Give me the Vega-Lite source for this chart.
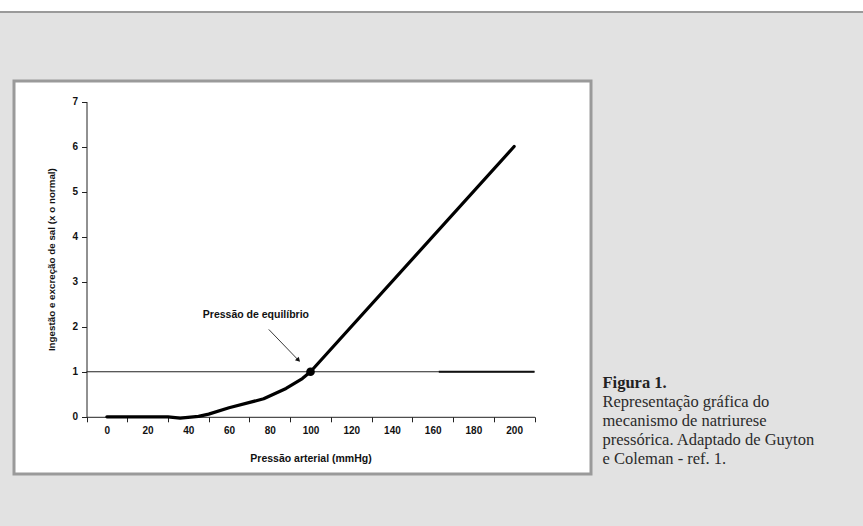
{
  "$schema": "https://vega.github.io/schema/vega-lite/v6.json",
  "background": "#e2e2e2",
  "padding": 0,
  "spacing": 0,
  "config": {"view": {"stroke": null}, "font": "Liberation Sans"},
  "datasets": {
    "curve": [
      {"p": 0, "v": 0}, {"p": 30, "v": 0}, {"p": 36, "v": -0.03}, {"p": 45, "v": 0.01},
      {"p": 50, "v": 0.06}, {"p": 60, "v": 0.2}, {"p": 77, "v": 0.4}, {"p": 88, "v": 0.63},
      {"p": 96, "v": 0.85}, {"p": 100, "v": 1}, {"p": 200, "v": 6}
    ],
    "intake": [{"p": -10, "p2": 210, "v": 1}],
    "intakeThick": [{"p": 163, "p2": 210, "v": 1}],
    "equilibrium": [{"p": 100, "v": 1}],
    "arrow": [{"p": 79.5, "v": 1.94, "p2": 94.2, "v2": 1.25}],
    "arrowHead": [{"p": 93.8, "v": 1.27}],
    "label": [{"p": 73.2, "v": 2.27, "text": "Pressão de equilíbrio"}]
  },
  "vconcat": [
    {"width": 863, "height": 11, "data": {"values": []}, "mark": "point", "view": {"fill": "white"}},
    {"width": 863, "height": 2, "data": {"values": []}, "mark": "point", "view": {"fill": "#9a9a9a"}},
    {"width": 863, "height": 65.5, "data": {"values": []}, "mark": "point"},
    {
      "spacing": 0,
      "hconcat": [
        {"width": 11.5, "height": 10, "data": {"values": []}, "mark": "point"},
        {
          "width": 577,
          "height": 393,
          "view": {"fill": "white", "stroke": "#9a9a9a", "strokeWidth": 3},
          "title": {
            "text": "Figura 1.",
            "subtitle": ["Representação gráfica do", "mecanismo de natriurese", "pressórica. Adaptado de Guyton", "e Coleman - ref. 1."],
            "orient": "bottom",
            "anchor": "start",
            "align": "left",
            "frame": "group",
            "dx": 588.5,
            "dy": -103,
            "font": "Liberation Serif",
            "fontSize": 16.5,
            "fontWeight": "bold",
            "color": "#222222",
            "subtitleFont": "Liberation Serif",
            "subtitleFontSize": 16.5,
            "subtitleFontWeight": "normal",
            "subtitleColor": "#2b2b2b",
            "subtitleLineHeight": 19,
            "subtitlePadding": 2
          },
          "layer": [
            {
              "data": {"name": "curve"},
              "mark": {"type": "line", "color": "black", "strokeWidth": 3.2, "strokeJoin": "round", "strokeCap": "round"},
              "encoding": {
                "x": {
                  "field": "p", "type": "quantitative",
                  "scale": {"domain": [-10, 210], "range": [72.5, 520.5], "nice": false, "zero": false},
                  "axis": {
                    "title": "Pressão arterial (mmHg)",
                    "offset": -57.2,
                    "values": [-10, 10, 30, 50, 70, 90, 110, 130, 150, 170, 190, 210],
                    "labelExpr": "datum.value >= 200 ? '' : format(datum.value + 10, 'd')",
                    "labelOffset": 20.36,
                    "labelOverlap": false,
                    "labelBound": false,
                    "labelFlush": false,
                    "grid": false,
                    "tickSize": 5,
                    "tickColor": "#222",
                    "domainColor": "#222",
                    "labelFont": "Liberation Sans",
                    "labelFontWeight": "bold",
                    "labelFontSize": 10,
                    "labelColor": "#111",
                    "labelPadding": 4,
                    "titleFont": "Liberation Sans",
                    "titleFontWeight": "bold",
                    "titleFontSize": 10.5,
                    "titleColor": "#111",
                    "titlePadding": 18
                  }
                },
                "y": {
                  "field": "v", "type": "quantitative",
                  "scale": {"domain": [0, 7], "range": [335.8, 20.5], "nice": false, "zero": false},
                  "axis": {
                    "title": "Ingestão e excreção de sal (x o normal)",
                    "offset": -72.5,
                    "values": [0, 1, 2, 3, 4, 5, 6, 7],
                    "format": "d",
                    "grid": false,
                    "tickSize": 5,
                    "tickColor": "#222",
                    "domainColor": "#222",
                    "labelFont": "Liberation Sans",
                    "labelFontWeight": "bold",
                    "labelFontSize": 10,
                    "labelColor": "#111",
                    "labelPadding": 4,
                    "titleFont": "Liberation Sans",
                    "titleFontWeight": "bold",
                    "titleFontSize": 9.8,
                    "titleColor": "#111",
                    "titlePadding": 15
                  }
                }
              }
            },
            {
              "mark": {"type": "rule", "color": "#555", "strokeWidth": 1},
              "encoding": {"y": {"datum": 7, "type": "quantitative"}, "x": {"datum": -10, "type": "quantitative"}, "x2": {"datum": 210}}
            },
            {
              "mark": {"type": "rule", "color": "#555", "strokeWidth": 1},
              "encoding": {"x": {"datum": 210, "type": "quantitative"}, "y": {"datum": 0, "type": "quantitative"}, "y2": {"datum": 7}}
            },
            {
              "data": {"name": "intake"},
              "mark": {"type": "rule", "color": "#222", "strokeWidth": 1},
              "encoding": {"x": {"field": "p", "type": "quantitative"}, "x2": {"field": "p2"}, "y": {"field": "v", "type": "quantitative"}}
            },
            {
              "data": {"name": "intakeThick"},
              "mark": {"type": "rule", "color": "#111", "strokeWidth": 2},
              "encoding": {"x": {"field": "p", "type": "quantitative"}, "x2": {"field": "p2"}, "y": {"field": "v", "type": "quantitative"}}
            },
            {
              "data": {"name": "arrow"},
              "mark": {"type": "rule", "color": "#222", "strokeWidth": 0.9},
              "encoding": {"x": {"field": "p", "type": "quantitative"}, "x2": {"field": "p2"}, "y": {"field": "v", "type": "quantitative"}, "y2": {"field": "v2"}}
            },
            {
              "data": {"name": "arrowHead"},
              "mark": {"type": "point", "shape": "triangle", "filled": true, "color": "#111", "size": 28, "angle": 136, "opacity": 1},
              "encoding": {"x": {"field": "p", "type": "quantitative"}, "y": {"field": "v", "type": "quantitative"}}
            },
            {
              "data": {"name": "equilibrium"},
              "mark": {"type": "point", "filled": true, "color": "black", "size": 75, "opacity": 1},
              "encoding": {"x": {"field": "p", "type": "quantitative"}, "y": {"field": "v", "type": "quantitative"}}
            },
            {
              "data": {"name": "label"},
              "mark": {"type": "text", "font": "Liberation Sans", "fontWeight": "bold", "fontSize": 10.5, "color": "#111", "align": "center", "baseline": "middle"},
              "encoding": {"x": {"field": "p", "type": "quantitative"}, "y": {"field": "v", "type": "quantitative"}, "text": {"field": "text"}}
            }
          ]
        }
      ]
    },
    {"width": 863, "height": 60, "data": {"values": []}, "mark": "point"}
  ]
}
